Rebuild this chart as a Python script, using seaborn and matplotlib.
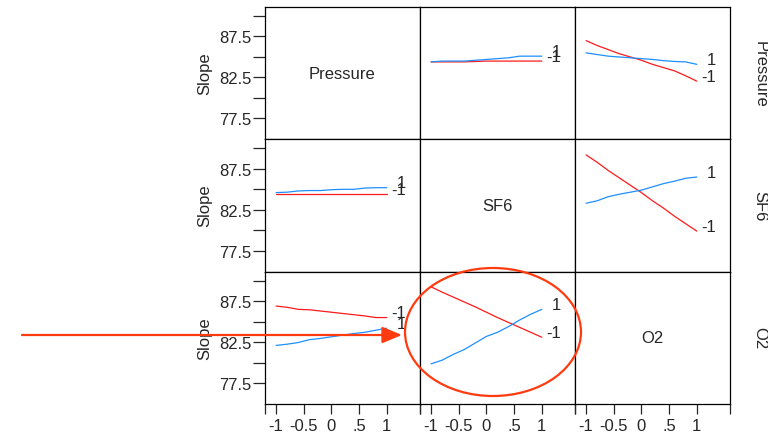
import matplotlib
matplotlib.use("Agg")
import matplotlib.pyplot as plt
from matplotlib.patches import Ellipse
import seaborn as sns
import pandas as pd

sns.set_style("white")
plt.rcParams["font.family"] = ["Liberation Sans", "DejaVu Sans"]

factors = ["Pressure", "SF6", "O2"]
levels = ["-1", "1"]
x_levels = [-1.0, -0.8, -0.6, -0.4, -0.2, 0.0, 0.2, 0.4, 0.6, 0.8, 1.0]
x_tick_vals = [-1, -0.5, 0, 0.5, 1]
x_tick_labels = ["-1", "-0.5", "0", ".5", "1"]
y_tick_vals = [77.5, 80, 82.5, 85, 87.5, 90]
y_tick_labels = ["77.5", "", "82.5", "", "87.5", ""]

# row Pressure (lines = Pressure levels)
pressure_vs_sf6_lo = [84.4, 84.4, 84.4, 84.4, 84.45, 84.5, 84.5, 84.5, 84.5, 84.5, 84.5]
pressure_vs_sf6_hi = [84.4, 84.5, 84.5, 84.5, 84.6, 84.7, 84.8, 84.9, 85.1, 85.1, 85.1]
pressure_vs_o2_lo = [87.0, 86.4, 85.9, 85.4, 85.0, 84.6, 84.1, 83.7, 83.3, 82.7, 82.05]
pressure_vs_o2_hi = [85.5, 85.3, 85.1, 85.0, 84.9, 84.8, 84.7, 84.55, 84.45, 84.4, 84.1]
# row SF6 (lines = SF6 levels)
sf6_vs_pressure_lo = [84.4, 84.4, 84.4, 84.4, 84.4, 84.4, 84.4, 84.4, 84.4, 84.4, 84.4]
sf6_vs_pressure_hi = [84.6, 84.65, 84.8, 84.85, 84.85, 84.95, 85.0, 85.0, 85.15, 85.2, 85.2]
sf6_vs_o2_lo = [89.2, 88.3, 87.3, 86.4, 85.5, 84.6, 83.6, 82.7, 81.7, 80.8, 79.9]
sf6_vs_o2_hi = [83.3, 83.6, 84.1, 84.4, 84.65, 84.9, 85.3, 85.7, 86.0, 86.35, 86.5]
# row O2 (lines = O2 levels)
o2_vs_pressure_lo = [86.9, 86.75, 86.5, 86.45, 86.3, 86.15, 86.0, 85.85, 85.7, 85.5, 85.5]
o2_vs_pressure_hi = [82.1, 82.25, 82.45, 82.8, 82.95, 83.15, 83.35, 83.55, 83.7, 83.95, 84.2]
o2_vs_sf6_lo = [89.25, 88.6, 88.0, 87.4, 86.8, 86.15, 85.5, 84.9, 84.3, 83.7, 83.1]
o2_vs_sf6_hi = [79.85, 80.3, 81.0, 81.6, 82.4, 83.2, 83.7, 84.4, 85.2, 85.9, 86.5]

panels = {
    (0, 1): (pressure_vs_sf6_lo, pressure_vs_sf6_hi),
    (0, 2): (pressure_vs_o2_lo, pressure_vs_o2_hi),
    (1, 0): (sf6_vs_pressure_lo, sf6_vs_pressure_hi),
    (1, 2): (sf6_vs_o2_lo, sf6_vs_o2_hi),
    (2, 0): (o2_vs_pressure_lo, o2_vs_pressure_hi),
    (2, 1): (o2_vs_sf6_lo, o2_vs_sf6_hi),
}

RED = "#FF1A1A"
BLUE = "#1E8FFF"
ANNOT = "#FF3B0F"
W, H = 768, 435

fig = plt.figure(figsize=(W / 100, H / 100), dpi=100)
axes = fig.subplots(3, 3, gridspec_kw=dict(left=265 / W, right=730 / W,
                                           top=1 - 8 / H, bottom=1 - 405 / H,
                                           wspace=0, hspace=0))

for r in range(3):
    for c in range(3):
        ax = axes[r, c]
        ax.set_xlim(-1.2, 1.6)
        ax.set_ylim(74.95, 91.1)
        for s in ax.spines.values():
            s.set_visible(True)
            s.set_color("black")
            s.set_linewidth(0.9)
        if r == c:
            ax.text(0.5, 0.5, factors[r], transform=ax.transAxes,
                    ha="center", va="center", fontsize=12)
        else:
            lo, hi = panels[(r, c)]
            df = pd.DataFrame({"x": x_levels * 2, "y": lo + hi,
                               "level": ["-1"] * len(lo) + ["1"] * len(hi)})
            sns.lineplot(data=df, x="x", y="y", hue="level",
                         palette={"-1": RED, "1": BLUE}, ax=ax,
                         legend=False, linewidth=0.9, estimator=None, sort=False)
            for lab, series in (("-1", lo), ("1", hi)):
                ax.annotate(lab, xy=(x_levels[-1], series[-1]),
                            xytext=(14, 3.5), textcoords="offset points",
                            ha="right", va="center", fontsize=12)
        ax.set_xlabel("")
        ax.set_ylabel("")
        if c == 0:
            ax.set_yticks(y_tick_vals)
            ax.set_yticklabels(y_tick_labels, fontsize=12)
            ax.tick_params(axis="y", length=8.6, width=0.9, pad=1, direction="out", left=True)
        else:
            ax.set_yticks([])
        if r == 2:
            ax.set_xticks(x_tick_vals)
            ax.set_xticklabels(x_tick_labels, fontsize=12)
            ax.set_xticks([-1.2, 1.6], minor=True)
            ax.tick_params(axis="x", which="both", length=7.2, width=0.9, pad=3,
                           direction="out", bottom=True)
        else:
            ax.set_xticks([])

row_centers = [74, 206, 338.5]
for r in range(3):
    fig.text(205 / W, 1 - row_centers[r] / H, "Slope", rotation=90,
             ha="center", va="center", fontsize=12)
    fig.text(760 / W, 1 - row_centers[r] / H, factors[r], rotation=270,
             ha="center", va="center", fontsize=12)

# annotation overlay
ov = fig.add_axes([0, 0, 1, 1], zorder=10)
ov.set_xlim(0, W)
ov.set_ylim(H, 0)
ov.axis("off")
ov.patch.set_alpha(0)
ov.add_patch(Ellipse((493, 333), 176, 128, fill=False, edgecolor=ANNOT, linewidth=1.6))
ov.annotate("", xy=(402, 336), xytext=(22, 336),
            arrowprops=dict(arrowstyle="-|>,head_length=1.2,head_width=0.5",
                            color=ANNOT, lw=1.6, shrinkA=0, shrinkB=0))

fig.savefig("out.png", dpi=100)
